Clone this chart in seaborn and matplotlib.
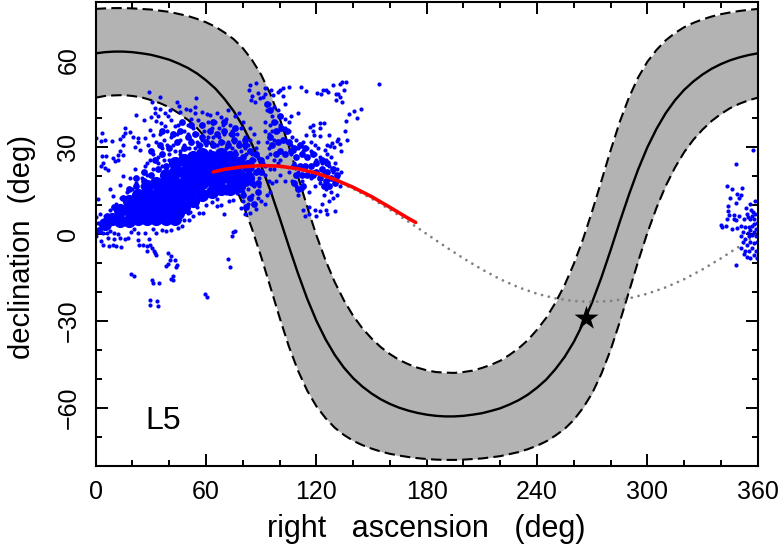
import numpy as np
import pandas as pd
import matplotlib
matplotlib.use("Agg")
import matplotlib.pyplot as plt
import seaborn as sns

# --- curves (deg) ---
plane_ra = list(range(0, 365, 5))
plane_dec = [62.3,62.7,62.9,62.9,62.7,62.3,61.8,61.0,60.1,58.8,57.3,55.4,53.0,50.2,46.6,42.4,37.2,30.9,23.5,15.0,5.6,-4.2,-13.6,-22.3,-29.9,-36.3,-41.7,-46.1,-49.7,-52.6,-55.0,-57.0,-58.6,-59.9,-60.9,-61.7,
             -62.3,-62.7,-62.9,-62.9,-62.7,-62.3,-61.8,-61.0,-60.1,-58.8,-57.3,-55.4,-53.0,-50.2,-46.6,-42.4,-37.2,-30.9,-23.5,-15.0,-5.6,4.2,13.6,22.3,29.9,36.3,41.7,46.1,49.7,52.6,55.0,57.0,58.6,59.9,60.9,61.7,62.3]
band_upper = [77.6,77.8,77.9,77.9,77.8,77.6,77.4,77.0,76.6,75.9,75.2,74.2,73.0,71.5,69.5,67.2,64.1,60.0,54.9,48.2,40.0,30.3,19.9,9.4,-0.4,-9.1,-16.6,-22.9,-28.2,-32.5,-36.0,-39.0,-41.4,-43.4,-44.9,-46.1,
              -47.0,-47.6,-47.8,-47.9,-47.6,-47.1,-46.2,-45.1,-43.7,-41.7,-39.4,-36.6,-33.0,-28.9,-23.7,-17.6,-10.3,-1.8,7.9,18.3,28.8,38.7,47.1,54.0,59.4,63.5,66.8,69.3,71.3,72.8,74.0,75.0,75.8,76.4,76.9,77.3,77.6]
band_lower = [47.0,47.6,47.8,47.9,47.6,47.1,46.2,45.1,43.7,41.7,39.4,36.6,33.0,28.9,23.7,17.6,10.3,1.8,-7.9,-18.3,-28.8,-38.7,-47.1,-54.0,-59.4,-63.5,-66.8,-69.3,-71.3,-72.8,-74.0,-75.0,-75.8,-76.4,-76.9,-77.3,
              -77.6,-77.8,-77.9,-77.9,-77.8,-77.6,-77.4,-77.0,-76.6,-75.9,-75.2,-74.2,-73.0,-71.5,-69.5,-67.2,-64.1,-60.0,-54.9,-48.2,-40.0,-30.3,-19.9,-9.4,0.4,9.1,16.6,22.9,28.2,32.5,36.0,39.0,41.4,43.4,44.9,46.1,47.0]
ecliptic_ra = list(range(0, 370, 10))
ecliptic_dec = [0,4.3,8.4,12.2,15.6,18.4,20.6,22.2,23.1,23.4,23.1,22.2,20.6,18.4,15.6,12.2,8.4,4.3,0,-4.3,-8.4,-12.2,-15.6,-18.4,-20.6,-22.2,-23.1,-23.4,-23.1,-22.2,-20.6,-18.4,-15.6,-12.2,-8.4,-4.3,0]
orbit_ra = [64,70,80,90,100,110,120,130,140,150,160,170,174]
orbit_dec = [21.4,22.3,23.2,23.6,23.4,22.5,21.0,18.8,16.1,12.9,9.2,5.4,4.0]
star_ra = [266.4]
star_dec = [-28.9]

# --- solid heart of the swarm (thick marks) ---
core = [(5,3),(9,5),(13,4),(13,8),(18,4),(18,8),(18,11),(23,5),(23,9),(23,13),(28,5),(28,9),(28,13),(28,16),
        (33,5),(33,9),(33,13),(33,17),(38,5),(38,9),(38,13),(38,17),(38,20),(43,5),(43,9),(43,13),(43,17),(43,21),(43,24),
        (48,9),(48,13),(48,17),(48,21),(48,25),(53,11),(53,15),(53,19),(53,23),(53,26),(58,13),(58,17),(58,21),(58,25),(58,27),
        (63,14),(63,18),(63,22),(63,26),(68,15),(68,19),(68,23),(68,27),(73,15),(73,19),(73,23),(73,26),(78,16),(78,20),(78,24),(83,19),(83,23),
        (20,6),(25,7),(30,7),(35,7),(40,7),(45,7),(25,11),(30,11),(35,11),(40,11),(45,11),(35,15),(40,15),(45,15),(50,15),(50,19),(55,17),(60,19),(65,20),(70,21),(75,21),(55,21),(60,23),(65,24),(70,25)]
clumps = [(95,33),(98,35),(101,36),(104,35),(96,30),(99,31),(102,32),(105,31),(100,28),(103,27),(106,28),(98,27),(97,38),(100,40),(95,42),(93,44),
          (108,29),(111,30),(114,29),(109,26),(112,27),(115,26),(118,27),(108,23),(111,23),(114,23),(117,23),(109,20),(112,20),(115,20),(118,20),(108,17),(110,15),(113,16),
          (120,24),(123,25),(126,24),(120,21),(123,22),(126,21),(129,22),(122,19),(125,18),(128,19),(131,20),(124,16),(127,16),(130,17),
          (75,32),(78,30),(81,30),(84,28),(87,27),(90,25),(76,27),(80,26),(85,25),(90,21),(87,21),(84,20),(82,17),(85,17),(88,17),(80,13),(84,12),(88,14),(82,9),(86,10),(81,32),
          (40,29),(44,31),(48,29),(52,31),(56,30),(60,31),(64,30),(68,31),(72,30),(42,34),(46,35),(50,33),(54,34),(58,33),(62,35),(66,34),(70,35),(74,34),(52,37),(58,37),(64,38),(70,38),(76,36),(47,38),
          (18,15),(22,16),(26,18),(30,20),(34,22),(26,21),(32,25),(36,27),(38,23),(22,19),(15,12),(10,9),(6,6),(30,28),(35,30),(36,35),(2,1)]

# --- individual swarm members ---
low_fringe = [(0.3,-1.1),(3,-2.8),(4,-3.9),(7.2,-4.5),(9.4,-3.9),(9.8,-2),(6.7,-1.6),(11.2,-4.3),(13.6,-4.7),(13,-1.6),(15.8,-2),(17.6,-1.6),
              (23,-2.4),(23.6,-3.9),(25.8,-3.9),(27.9,-4.5),(29.4,-3.9),(30.7,-5.1),(26.7,0.1),(23,0.1),(29,-2),(47.2,2.6),(50.6,4.6),(53,5.8),(51.5,7.1),
              (56.1,6.9),(58.4,6.9),(69.7,6.7),(65.7,9.2),(68.4,9.8),(76.6,13.8),(70.8,13.8),(72.6,10.9),(74.5,11.5),(1,1),(2,0.5),(4,0.2),(6,0),(8,0.6),(10,0.2),(12,-0.4),(1,3.5),(0.4,5.5),(2.2,6.5),
              (19,0.5),(21,1.5),(31,1.5),(36,1.2),(41,1),(45,1.8),(48,4.5),(50,7),(33,0.2),(38,0.6),(55,9),(60,9.5),(63,10.5),(66,11.8),(80,11),(83,10),(85,13),(88,12),(79,8.5),(84,7),(87,8.3),(81,6.5)]
far_south = [(39.4,-6.8),(41.2,-7.9),(40.3,-9.1),(43,-9.3),(39.4,-10.4),(38.5,-11.1),(44.3,-10.8),(43.4,-11.6),(41.8,-14.8),(40.9,-15.7),(41.8,-16.1),
             (19.1,-14),(20.9,-14.5),(30.7,-15.9),(31.2,-17),(34.5,-17),(29.4,-23),(29.8,-24.4),(33.6,-23.3),(34,-25),(59.7,-20.7),(60.5,-21.8),
             (71.7,-8.8),(72.8,-11.4),(73.9,-1.1),(74.8,0.3),(75.9,0.6),(32.5,-6.6),(33,-7.3),(31.5,-6.2),(28,-6.2)]
north_west = [(28.8,48.1),(34.8,46.4),(30.7,44.8),(44.3,44.7),(45.2,43.6),(54.8,46.2),(53.9,43.1),(49,42.4),(51.5,42),(45.7,41.3),(53.9,41.1),(57.9,41.3),(60.3,40.9),(62.4,40.5),
              (55.7,38.8),(68,39.6),(22.1,40.5),(26.3,38.6),(30,39.6),(32.1,42.8),(34.8,42.4),(32,41),(40.3,42.2),(37.6,41.1),(34,39.9),(33,38.2),(39.4,39.9),(35.7,37.7),(41.2,38.8),(43,36.5),(37.6,36.5),
              (3.4,34.2),(0.3,32.5),(5.2,32),(3,31.4),(9,31.4),(15.8,36),(15.8,34.2),(18.5,34.5),(14.9,33.1),(13.4,32.2),(20.3,32.8),(23,32.5),(21.2,29.5),(23,31),(24,28.5),(26.7,32.5),(29.4,35.4),(31.2,33.7),(28.5,30.2),
              (14.9,30.2),(13.4,28),(14.9,26.8),(12.1,26.8),(3.6,26.5),(5.8,26.5),(4,24),(3.1,22.8),(4.9,22.3),(10.3,24.6),(12.1,25.1),(9.5,25.6),(6.7,21.7),(21.2,22),(26.7,22.8),(29.4,25.1),(14.9,19.4),(18.5,18.9),(13,16.6),(7.6,15.2),(1.2,11.8),(9.4,12.6)]
mid_cloud = [(33,31),(35,34),(37,32),(39,35),(41,33),(36,29),(39,30),(42,30),(44,34),(46,32),(48,35),(45,37),(47,38),(50,37),(52,39),(50,34),(53,36),(55,34),(57,37),(59,35),(61,38),(63,36),(65,38),(67,36),(69,37),(71,39),(73,37),
             (52,32),(55,31),(58,32),(61,33),(64,33),(67,33),(70,34),(73,34),(75,36),(77,34),(79,36),(81,33),(83,30),(85,27),(48,30),(51,29),(54,29),(57,30),(60,30),(63,31),(66,30),(69,31),(72,31),(75,31),(78,31),(81,29),(84,32),(86,34),
             (31,27),(34,26),(37,25),(40,27),(43,28),(46,28),(49,29),(28,24),(31,22),(34,24),(25,19),(28,20),(22,17),(25,16),(20,15),(17,14),(14,12),(11,10),(8,8),(5,6),(36,23),(40,25),(46,27),(76,28),(79,28),(82,27),(86,25),(88,22),(89,19),(87,29),
             (74,29),(71,29),(84,36),(80,38),(76,40),(66,41),(72,42),(78,41),(74,35),(62,28),(56,28),(89,16),(86,16),(83,15),(80,14),(88,26),(90,24),(88,31)]
gap_strip = [(91,24),(93,26),(95,22),(92,20),(94,18),(97,22),(95,14),(93,13),(90,11),(92,10),(96,17),(98,18),(99,24),(97,25),(92,23),(95,27),(100,25),(103,18),(100,20),(105,21)]
upper_arm = [(84,50.8),(87,51.2),(92,49.6),(83.5,49),(88.4,47.9),(84.8,46.8),(84.3,45.6),(92,47.7),(86.6,44.7),(91.2,46.6),(89.3,46.2),(95.3,49),(96.6,47.3),(99,48.1),(102,49.6),(105,50),(111.5,50),(114.4,48.5),(102,47),(100,49),
             (94,44),(97,43),(93,42),(96,40),(99,42),(101,40),(103,44),(92,38),(95,37),(98,38),(100,37),(103,36),(105,38),(106,40),(94,34),(96,35),(99,35),(103,39),(93,31),(92,35),(97,32),(105,35),(107,33),(104,31),(106,30),(108,28),(109,32),(110,29),(94,29),(100,28),(106,27)]
east_cloud = [(154.2,51),(133.8,51.6),(136.2,51.8),(132.9,51),(128.8,50.5),(135.1,48.8),(126.2,48.3),(125.3,48.8),(123.5,49),(120.6,47.9),(122.4,47.7),(130.7,47.4),(132,47.4),(132.6,46.6),(130.7,45.6),(134.2,45),
              (144.4,42.4),(140.2,41.6),(137.6,40.9),(142.2,39.4),(136,38.2),(110.2,41.1),(135.7,34.9),(136.9,32),(124.4,37.7),(122,37.7),(118.4,37),(116.6,36.3),(122,36),(114.4,33.7),(118.4,34.8),(118.8,33.7),(126.9,33.7),(122,33.1),
              (132,32.2),(131.1,31.6),(132.6,30.6),(133.5,28.2),(128.4,30.8),(127.5,29.9),(129.7,29.5),(125.7,30.2),(124.8,28.5),(119,30),(121,29),(117,31),(113,31),(115,29),(119,27),(122,26),(125,25),(128,26),(130,24),(126,27),(123,24),(127,23),(131,22),(133.5,21),(129,21),(120,25),(117,28),(113,28),
              (108,24),(110,21),(107,18),(109,16),(112,18),(114,20),(117,19),(119,16),(122,17),(125,15),(128,14),(130,17),(133,16),(131,13),(124,13),(127,11),(129,12),(123,10),(125,8),(122,7.5),(119,8),(116,9),(113,8),(114,6),(120,6),(116,6.5),(130,7.5),(126,6.5),(112,15),(110,13),(116,14),(118,21),(124,21),(127,19),(131,19)]
west_wrap = [(357.5,28.5),(348.2,23.5),(343.3,16),(345.9,15.1),(351.3,15.3),(349,13.5),(350.8,12.9),(344.9,12),(350,11.9),(348.2,10.3),(344,9.4),(344,7.7),(355.7,10.1),(358.4,11),(353.7,8.6),(356.2,8),(357.5,7.3),(358.4,6.6),
             (354,6.6),(357,6),(354.5,5.5),(356,4.8),(358,4.8),(344.4,6.1),(347.1,6.3),(349.8,5.9),(343.5,5),(347,4.9),(348,4.5),(352.5,4.7),(340.2,2.9),(340.8,2.1),(343,2.3),(346,1.5),(349,1.9),(351,2.6),(353,2),(355,2.2),(357,2.5),(359,1.5),(358,3),(359.5,3.5),
             (348.4,-10.9),(351,-1),(353,-2),(355,-1),(357,-0.5),(359,-1),(352,-3),(354,-4),(356,-3),(358,-3.5),(359.5,-3),(351,-5),(353,-6),(355,-6),(357,-5),(359,-6),(354,-8),(356,-8.5),(358,-7.5),(352.5,-7),(359.5,-8.5),(356,1),(358,0.5),(352,0.3),(354.5,0)]

swarm = pd.DataFrame(low_fringe + far_south + north_west + mid_cloud + gap_strip + upper_arm + east_cloud + west_wrap, columns=["ra", "dec"])
heart = pd.DataFrame(core, columns=["ra", "dec"])
dense = pd.DataFrame(clumps, columns=["ra", "dec"])
# the swarm was first read against a slightly different declination scale
for frame in (swarm, heart, dense):
    frame["dec"] = frame["dec"] * 1.009 + 0.28

BLACK = "#000000"
sns.set_theme(style="ticks", rc={"axes.linewidth": 1.5, "text.color": BLACK, "axes.labelcolor": BLACK,
                                 "xtick.color": BLACK, "ytick.color": BLACK, "axes.edgecolor": BLACK})
plt.rcParams["font.family"] = ["Liberation Sans", "DejaVu Sans"]

fig = plt.figure(figsize=(7.81, 5.45), dpi=100)
ax = fig.add_axes([95.7/781, (545-466)/545, 662/781, 464/545])
BLUE = "#0000ff"

ax.fill_between(plane_ra, band_lower, band_upper, color="#b3b3b3", lw=0, zorder=1)
curve_kw = dict(estimator=None, sort=False, ax=ax, legend=False)
sns.lineplot(x=plane_ra, y=band_upper, color="black", lw=1.5, linestyle=(0, (5, 2.5)), zorder=2, **curve_kw)
sns.lineplot(x=plane_ra, y=band_lower, color="black", lw=1.5, linestyle=(0, (5, 2.5)), zorder=2, **curve_kw)
sns.lineplot(x=plane_ra, y=plane_dec, color="black", lw=1.7, zorder=2, **curve_kw)
sns.lineplot(x=ecliptic_ra, y=ecliptic_dec, color="#808080", lw=2.0, linestyle=(0, (0.01, 2.5)), dash_capstyle="round", zorder=2, **curve_kw)

sns.scatterplot(data=heart, x="ra", y="dec", color=BLUE, s=90, linewidth=0, ax=ax, zorder=3, legend=False)
sns.scatterplot(data=dense, x="ra", y="dec", color=BLUE, s=24, linewidth=0, ax=ax, zorder=3, legend=False)
sns.scatterplot(data=swarm, x="ra", y="dec", color=BLUE, s=9, linewidth=0, ax=ax, zorder=3, legend=False)
sns.lineplot(x=orbit_ra, y=orbit_dec, color="#ff0000", lw=2.6, zorder=4, **curve_kw)
sns.scatterplot(x=star_ra, y=star_dec, color="black", marker="*", s=330, linewidth=0, ax=ax, zorder=5, legend=False)

ax.set_xlim(0, 360)
ax.set_ylim(-80, 80)
ax.set_xticks(np.arange(0, 361, 60))
ax.set_xticks(np.arange(0, 361, 20), minor=True)
ax.set_yticks(np.arange(-60, 61, 30))
ax.set_yticks(np.arange(-70, 71, 10), minor=True)
ax.tick_params(which="major", direction="in", length=8.5, width=1.4, top=True, right=True, labelsize=18)
ax.tick_params(which="minor", direction="in", length=4.5, width=1.4, top=True, right=True)
ax.tick_params(axis="x", which="major", pad=10)
ax.tick_params(axis="y", which="major", pad=11)
ax.set_xticklabels([str(v) for v in range(0, 361, 60)])
ax.set_yticklabels(["\u221260", "\u221230", "0", "30", "60"], rotation=90, va="center")
for s in ax.spines.values():
    s.set_zorder(6)
    s.set_linewidth(1.5)
ax.set_xlabel("right   ascension   (deg)", fontsize=22, labelpad=7)
ax.set_ylabel("declination  (deg)", fontsize=21, labelpad=15, y=0.473)
ax.text(27, -64.4, "L5", fontsize=23, ha="left", va="center", zorder=6)
fig.savefig("out.png", dpi=100)
